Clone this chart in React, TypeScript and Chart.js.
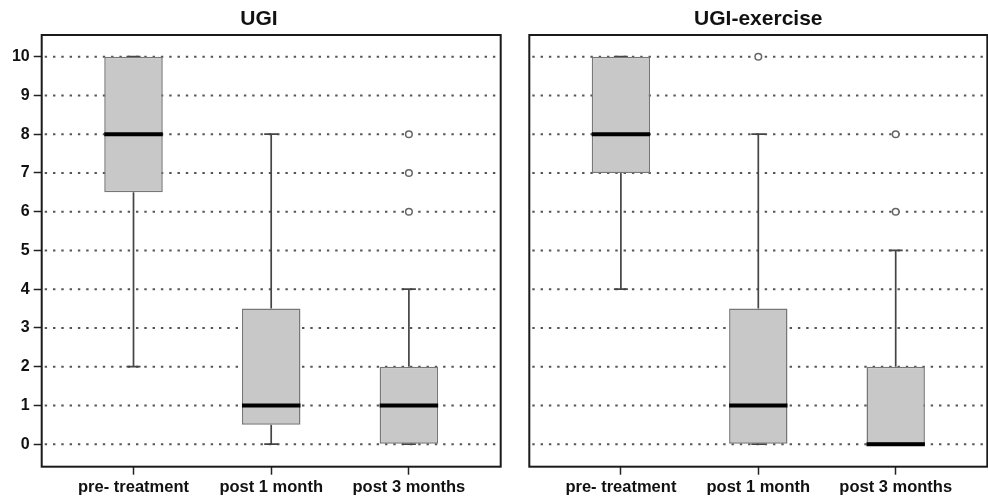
import { useEffect, useRef } from 'react';
import { Chart, registerables } from 'chart.js';

Chart.register(...registerables);

const FONT = "'Liberation Sans', Arial, Helvetica, sans-serif";

const categories = ['pre- treatment', 'post 1 month', 'post 3 months'];
const yTicks = [0, 1, 2, 3, 4, 5, 6, 7, 8, 9, 10];

// UGI panel
const ugiLow = [2, 0, 0];
const ugiQ1 = [6.5, 0.5, 0];
const ugiMedian = [8, 1, 1];
const ugiQ3 = [10, 3.5, 2];
const ugiHigh = [10, 8, 4];
const ugiOutliers = [[], [], [6, 7, 8]];

// UGI-exercise panel
const exLow = [4, 0, 0];
const exQ1 = [7, 0, 0];
const exMedian = [8, 1, 0];
const exQ3 = [10, 3.5, 2];
const exHigh = [10, 8, 5];
const exOutliers = [[], [10], [6, 8]];

interface Panel {
  title: string;
  low: number[];
  q1: number[];
  median: number[];
  q3: number[];
  high: number[];
  outliers: number[][];
}

interface Layout {
  showY: boolean;
  yWidth: number;
  rightWidth: number;
  padRight: number;
  titleFull: boolean;
}

function buildChart(canvas: HTMLCanvasElement, panel: Panel, lay: Layout) {
  const xs = categories.map((_, i) => i + 1);

  const extras = {
    id: 'boxplotExtras',
    beforeDatasetsDraw(chart: any) {
      const { ctx, chartArea: a, scales } = chart;
      const x = scales.x;
      const y = scales.y;
      ctx.save();
      ctx.beginPath();
      ctx.rect(a.left, a.top, a.width, a.height);
      ctx.clip();
      // dotted grid lines
      ctx.strokeStyle = '#555555';
      ctx.lineWidth = 2;
      ctx.setLineDash([2.4, 5.9]);
      y.ticks.forEach((t: any) => {
        const py = y.getPixelForValue(t.value);
        ctx.beginPath();
        ctx.moveTo(a.left + 3, py);
        ctx.lineTo(a.right, py);
        ctx.stroke();
      });
      ctx.setLineDash([]);
      // whiskers + caps
      ctx.strokeStyle = '#444444';
      ctx.lineWidth = 1.7;
      xs.forEach((xv, i) => {
        const px = x.getPixelForValue(xv);
        const pairs = [
          [panel.low[i], panel.q1[i]],
          [panel.q3[i], panel.high[i]],
        ];
        pairs.forEach(([from, to]) => {
          const p1 = y.getPixelForValue(from);
          const p2 = y.getPixelForValue(to);
          if (from !== to) {
            ctx.beginPath();
            ctx.moveTo(px, p1);
            ctx.lineTo(px, p2);
            ctx.stroke();
          }
        });
        [panel.low[i], panel.high[i]].forEach((v) => {
          const py = y.getPixelForValue(v);
          ctx.beginPath();
          ctx.moveTo(px - 7, py);
          ctx.lineTo(px + 7, py);
          ctx.stroke();
        });
      });
      ctx.restore();
    },
    afterDatasetsDraw(chart: any) {
      const { ctx, scales } = chart;
      const y = scales.y;
      const meta = chart.getDatasetMeta(0);
      ctx.save();
      ctx.strokeStyle = '#000000';
      ctx.lineWidth = 4;
      meta.data.forEach((bar: any, i: number) => {
        const py = y.getPixelForValue(panel.median[i]);
        const half = bar.width / 2;
        ctx.beginPath();
        ctx.moveTo(bar.x - half, py);
        ctx.lineTo(bar.x + half, py);
        ctx.stroke();
      });
      ctx.restore();
    },
    afterDraw(chart: any) {
      const { ctx, chartArea: a } = chart;
      ctx.save();
      ctx.strokeStyle = '#1a1a1a';
      ctx.lineWidth = 2;
      ctx.strokeRect(a.left, a.top, a.width, a.height);
      ctx.restore();
    },
  };

  const outlierPoints: { x: number; y: number }[] = [];
  panel.outliers.forEach((list, i) => list.forEach((v) => outlierPoints.push({ x: xs[i], y: v })));

  const yFont = { family: FONT, size: 16, weight: 'bold' as const };
  const xFont = { family: FONT, size: 16.5, weight: 'bold' as const };

  const scales: any = {
    x: {
      type: 'linear',
      min: 1 / 3,
      max: 11 / 3,
      offset: false,
      afterBuildTicks: (s: any) => {
        s.ticks = xs.map((v) => ({ value: v }));
      },
      afterFit: (s: any) => {
        s.height = 32.3;
        s.paddingLeft = 0;
        s.paddingRight = 0;
      },
      ticks: {
        autoSkip: false,
        maxRotation: 0,
        minRotation: 0,
        padding: 3,
        color: '#111111',
        font: xFont,
        callback: (_v: any, index: number) => categories[index],
      },
      grid: {
        display: true,
        offset: false,
        drawOnChartArea: false,
        drawTicks: true,
        tickLength: 8,
        tickColor: '#222222',
        tickWidth: 1.5,
      },
      border: { display: false },
    },
    y: {
      type: 'linear',
      position: 'left',
      min: -0.58,
      max: 10.56,
      afterBuildTicks: (s: any) => {
        s.ticks = yTicks.map((v) => ({ value: v }));
      },
      afterFit: (s: any) => {
        s.width = lay.yWidth;
        s.paddingTop = 0;
        s.paddingBottom = 0;
      },
      ticks: {
        display: lay.showY,
        padding: 4,
        color: '#111111',
        font: yFont,
        callback: (v: any) => String(v),
      },
      grid: {
        display: true,
        drawOnChartArea: false,
        drawTicks: lay.showY,
        tickLength: 8,
        tickColor: '#222222',
        tickWidth: 1.5,
      },
      border: { display: false },
    },
  };
  if (lay.rightWidth > 0) {
    scales.y2 = {
      type: 'linear',
      position: 'right',
      display: true,
      grid: { display: false, drawTicks: false },
      ticks: { display: false },
      border: { display: false },
      afterFit: (s: any) => {
        s.width = lay.rightWidth;
        s.paddingTop = 0;
        s.paddingBottom = 0;
      },
    };
  }

  return new Chart(canvas, {
    type: 'bar',
    data: {
      datasets: [
        {
          type: 'bar',
          data: xs.map((xv, i) => ({ x: xv, y: [panel.q1[i], panel.q3[i]] })) as any,
          backgroundColor: '#c8c8c8',
          borderColor: '#777777',
          borderWidth: 1.5,
          borderSkipped: false,
          categoryPercentage: 1,
          barPercentage: 0.425,
          xAxisID: 'x',
          yAxisID: 'y',
        } as any,
        {
          type: 'scatter',
          data: outlierPoints,
          pointRadius: 3.3,
          pointBorderWidth: 1.5,
          pointBorderColor: '#666666',
          pointBackgroundColor: '#ffffff',
          xAxisID: 'x',
          yAxisID: 'y',
        } as any,
      ],
    },
    options: {
      responsive: false,
      animation: false,
      events: [],
      layout: { autoPadding: false, padding: { top: 0, bottom: 0, left: 0, right: lay.padRight } },
      scales,
      plugins: {
        legend: { display: false },
        tooltip: { enabled: false },
        title: {
          display: true,
          text: panel.title,
          color: '#111111',
          fullSize: lay.titleFull,
          font: { family: FONT, size: 21, weight: 'bold', lineHeight: 1.2 },
          padding: { top: 7, bottom: 2.8 },
        },
      },
    } as any,
    plugins: [extras],
  });
}

export default function App() {
  const leftRef = useRef<HTMLCanvasElement>(null);
  const rightRef = useRef<HTMLCanvasElement>(null);

  useEffect(() => {
    Chart.defaults.font.family = FONT;
    const left = buildChart(
      leftRef.current!,
      { title: 'UGI', low: ugiLow, q1: ugiQ1, median: ugiMedian, q3: ugiQ3, high: ugiHigh, outliers: ugiOutliers },
      { showY: true, yWidth: 41.7, rightWidth: 17.3, padRight: 0, titleFull: true }
    );
    const right = buildChart(
      rightRef.current!,
      { title: 'UGI-exercise', low: exLow, q1: exQ1, median: exMedian, q3: exQ3, high: exHigh, outliers: exOutliers },
      { showY: false, yWidth: 11.3, rightWidth: 0, padRight: 0.7, titleFull: false }
    );
    return () => {
      left.destroy();
      right.destroy();
    };
  }, []);

  return (
    <div style={{ position: 'fixed', left: 0, top: 0, width: 988, height: 499, background: '#ffffff' }}>
      <canvas
        ref={leftRef}
        width={518}
        height={499}
        style={{ position: 'absolute', left: 0, top: 0, width: 518, height: 499 }}
      />
      <canvas
        ref={rightRef}
        width={470}
        height={499}
        style={{ position: 'absolute', left: 518, top: 0, width: 470, height: 499 }}
      />
    </div>
  );
}
